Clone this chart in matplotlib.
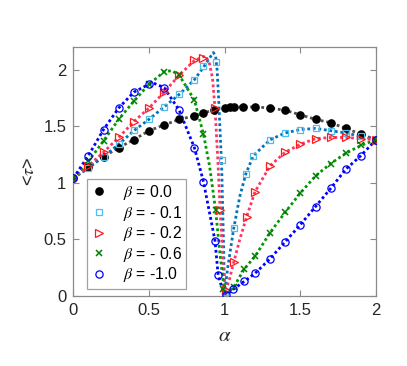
import matplotlib
matplotlib.use("Agg")
import matplotlib.pyplot as plt

plt.rcParams['font.family'] = ['Liberation Sans', 'DejaVu Sans']
plt.rcParams['mathtext.fontset'] = 'stix'

# ---- data ----
labels = [r"$\beta$ = 0.0", r"$\beta$ = - 0.1", r"$\beta$ = - 0.2", r"$\beta$ = - 0.6", r"$\beta$ = -1.0"]

# beta = 0.0
a0_m = [0, 0.1, 0.2, 0.3, 0.4, 0.5, 0.6, 0.7, 0.8, 0.86, 0.93, 1.0, 1.035, 1.06, 1.12, 1.2, 1.3, 1.4, 1.5, 1.6, 1.7, 1.8, 1.9, 2.0]
v0_m = [1.04, 1.14, 1.23, 1.31, 1.38, 1.46, 1.51, 1.56, 1.59, 1.62, 1.64, 1.66, 1.67, 1.67, 1.67, 1.67, 1.66, 1.64, 1.60, 1.56, 1.53, 1.48, 1.43, 1.38]
a0_l = a0_m
v0_l = v0_m

# beta = -0.1
a1_m = [0, 0.1, 0.2, 0.3, 0.4, 0.5, 0.6, 0.7, 0.8, 0.86, 0.94, 0.98, 1.0, 1.06, 1.14, 1.19, 1.3, 1.4, 1.5, 1.6, 1.7, 1.8, 1.9, 2.0]
v1_m = [1.04, 1.13, 1.23, 1.34, 1.47, 1.56, 1.67, 1.78, 1.91, 2.03, 2.07, 1.20, 0.04, 0.60, 1.08, 1.24, 1.38, 1.44, 1.47, 1.48, 1.46, 1.44, 1.41, 1.38]
a1_l = [0, 0.1, 0.2, 0.3, 0.4, 0.5, 0.6, 0.7, 0.8, 0.86, 0.9, 0.925, 0.94, 0.95, 0.96, 0.97, 0.98, 0.99, 1.0, 1.02, 1.06, 1.1, 1.14, 1.19, 1.3, 1.4, 1.5, 1.6, 1.7, 1.8, 1.9, 2.0]
v1_l = [1.04, 1.13, 1.23, 1.34, 1.46, 1.56, 1.67, 1.78, 1.91, 2.02, 2.10, 2.15, 2.12, 2.0, 1.75, 1.45, 1.15, 0.6, 0.03, 0.25, 0.60, 0.88, 1.08, 1.24, 1.38, 1.44, 1.47, 1.48, 1.46, 1.44, 1.41, 1.38]

# beta = -0.2
a2_m = [0, 0.1, 0.2, 0.3, 0.4, 0.5, 0.6, 0.7, 0.8, 0.86, 0.936, 0.97, 1.01, 1.06, 1.145, 1.2, 1.3, 1.4, 1.5, 1.6, 1.7, 1.8, 1.9, 2.0]
v2_m = [1.04, 1.15, 1.27, 1.40, 1.54, 1.66, 1.80, 1.95, 2.08, 2.10, 1.66, 0.76, 0.05, 0.30, 0.70, 0.92, 1.15, 1.27, 1.34, 1.39, 1.40, 1.40, 1.39, 1.38]
a2_l = [0, 0.1, 0.2, 0.3, 0.4, 0.5, 0.6, 0.7, 0.8, 0.875, 0.9, 0.92, 0.936, 0.955, 0.97, 0.985, 1.0, 1.03, 1.06, 1.1, 1.145, 1.2, 1.3, 1.4, 1.5, 1.6, 1.7, 1.8, 1.9, 2.0]
v2_l = [1.04, 1.15, 1.27, 1.40, 1.54, 1.66, 1.80, 1.95, 2.08, 2.12, 2.05, 1.92, 1.66, 1.20, 0.76, 0.40, 0.03, 0.14, 0.30, 0.50, 0.70, 0.92, 1.15, 1.27, 1.34, 1.39, 1.40, 1.40, 1.39, 1.38]

# beta = -0.6
a3_m = [0, 0.1, 0.2, 0.3, 0.4, 0.5, 0.6, 0.7, 0.8, 0.86, 0.94, 0.99, 1.06, 1.13, 1.2, 1.3, 1.4, 1.5, 1.6, 1.7, 1.8, 1.9, 2.0]
v3_m = [1.04, 1.19, 1.37, 1.56, 1.72, 1.87, 1.98, 1.95, 1.73, 1.43, 0.76, 0.06, 0.08, 0.24, 0.35, 0.56, 0.74, 0.91, 1.06, 1.17, 1.26, 1.33, 1.38]
a3_l = [0, 0.1, 0.2, 0.3, 0.4, 0.5, 0.6, 0.65, 0.7, 0.8, 0.86, 0.9, 0.94, 0.97, 1.0, 1.03, 1.06, 1.13, 1.2, 1.3, 1.4, 1.5, 1.6, 1.7, 1.8, 1.9, 2.0]
v3_l = [1.04, 1.19, 1.37, 1.56, 1.72, 1.87, 1.98, 1.99, 1.95, 1.73, 1.43, 1.15, 0.76, 0.36, 0.02, 0.04, 0.08, 0.24, 0.35, 0.56, 0.74, 0.91, 1.06, 1.17, 1.26, 1.33, 1.38]

# beta = -1.0
a4_m = [0, 0.1, 0.2, 0.3, 0.4, 0.5, 0.6, 0.7, 0.8, 0.86, 0.936, 0.957, 1.01, 1.057, 1.13, 1.2, 1.3, 1.4, 1.5, 1.6, 1.7, 1.8, 1.9, 2.0]
v4_m = [1.04, 1.24, 1.47, 1.66, 1.80, 1.87, 1.84, 1.64, 1.31, 1.01, 0.49, 0.185, 0.01, 0.06, 0.13, 0.20, 0.33, 0.48, 0.63, 0.79, 0.95, 1.12, 1.24, 1.38]
a4_l = [0, 0.1, 0.2, 0.3, 0.4, 0.5, 0.53, 0.6, 0.7, 0.8, 0.86, 0.936, 0.957, 0.985, 1.01, 1.057, 1.13, 1.2, 1.3, 1.4, 1.5, 1.6, 1.7, 1.8, 1.9, 2.0]
v4_l = [1.04, 1.24, 1.47, 1.66, 1.80, 1.87, 1.88, 1.84, 1.64, 1.31, 1.01, 0.49, 0.185, 0.06, 0.01, 0.06, 0.13, 0.20, 0.33, 0.48, 0.63, 0.79, 0.95, 1.12, 1.24, 1.38]

xticks = [0, 0.5, 1, 1.5, 2]
xticklabels = ["0", "0.5", "1", "1.5", "2"]
yticks = [0, 0.5, 1, 1.5, 2]
yticklabels = ["0", "0.5", "1", "1.5", "2"]

# ---- styles ----
series = [
    (a0_m, v0_m, a0_l, v0_l, dict(marker='o', mfc='black', mec='black', ms=5.2), '#505050'),
    (a1_m, v1_m, a1_l, v1_l, dict(marker='s', mfc='none', mec='#4DBEEE', ms=4.8, mew=0.9), '#0072BD'),
    (a2_m, v2_m, a2_l, v2_l, dict(marker='>', mfc='none', mec='#FF1A1A', ms=6.0, mew=0.9), '#FF3366'),
    (a3_m, v3_m, a3_l, v3_l, dict(marker='x', mfc='none', mec='#008000', ms=4.8, mew=1.1), '#009900'),
    (a4_m, v4_m, a4_l, v4_l, dict(marker='o', mfc='none', mec='#0000FF', ms=5.2, mew=0.9), '#0000FF'),
]

fig = plt.figure(figsize=(4.07, 3.66), dpi=100)
ax = fig.add_axes([0.180, 0.191, 0.744, 0.681])

handles = []
for (am, vm, al, vl, mk, lc), lab in zip(series, labels):
    ax.plot(al, vl, linestyle=(0, (1, 1)), color=lc, linewidth=2.0, zorder=2)
    h, = ax.plot(am, vm, linestyle='none', zorder=3, **mk)
    handles.append(h)

ax.set_xlim(0, 2)
ax.set_ylim(0, 2.2)
ax.set_xticks(xticks)
ax.set_xticklabels(xticklabels)
ax.set_yticks(yticks)
ax.set_yticklabels(yticklabels)
ax.tick_params(direction='in', top=True, right=True, length=4, width=0.8,
               colors='#8a8a8a', labelcolor='#262626', labelsize=12, pad=5)
for s in ax.spines.values():
    s.set_color('#8a8a8a')
    s.set_linewidth(0.9)

ax.set_xlabel(r'$\alpha$', fontsize=15, color='#262626', labelpad=6)
ax.set_ylabel(r'<$\tau$>', fontsize=13, color='#262626', labelpad=4)

leg = ax.legend(handles, labels, loc='lower left', bbox_to_anchor=(0.045, 0.03),
                fontsize=11.3, frameon=True, fancybox=False, handlelength=1.0,
                handletextpad=1.0, labelspacing=0.1, borderpad=0.28, borderaxespad=0.0)
leg.get_frame().set_edgecolor('#8a8a8a')
leg.get_frame().set_linewidth(0.9)

fig.savefig('out.png', dpi=100)
